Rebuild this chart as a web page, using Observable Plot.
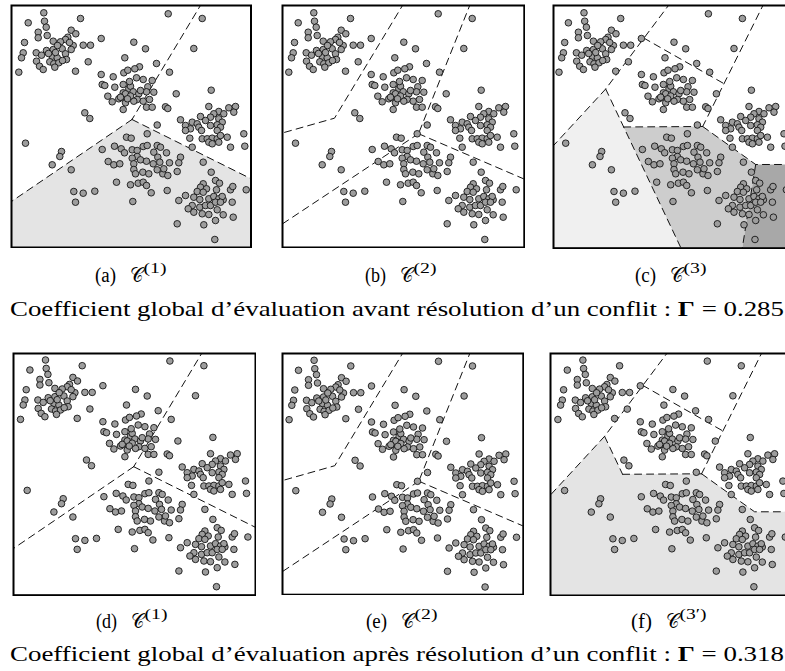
<!DOCTYPE html>
<html>
<head>
<meta charset="utf-8">
<script src="https://cdn.jsdelivr.net/npm/d3@7"></script>
<script src="https://cdn.jsdelivr.net/npm/@observablehq/plot@0.6"></script>
<style>
html, body { margin: 0; padding: 0; background: #fff; }
#root { position: relative; width: 785px; height: 671px; overflow: hidden; background: #fff; }
#root svg.plot-panel { position: absolute; }
#overlay { position: absolute; left: 0; top: 0; }
</style>
</head>
<body>
<div id="root"></div>
<script>
// ---------- data: points (panel coordinates, x right, y down) ----------
const clusterNW = [[32.3,7.3],[69,13],[16.7,17.3],[33,15.7],[34.7,21.7],[26.7,26.7],[26.7,32.3],[35.7,30],[59.7,24.7],[64.3,28.3],[56.3,31.7],[54,34],[41.7,35.7],[49,36.3],[13,37],[61.7,40],[71.7,39.7],[79,39.7],[89.7,33],[35,45],[41.7,44],[50.7,43.3],[59.7,44],[24.7,47.3],[30,49.7],[11.7,47.3],[10,52.3],[40.7,50.7],[45.7,52.3],[54,48.3],[25,55.7],[38.3,56.3],[42.3,58.3],[47.3,57.3],[55,54],[76.7,56.3],[28,60.7],[31.7,64],[43.3,61.7],[7.3,66.7],[64,65.7],[46,40],[58,37],[51,55],[37,48],[44,47]];
const clusterN = [[113.3,52.3],[89.7,69],[101.7,71.3],[112.3,67.3],[116.3,64.7],[90.7,79],[93.3,80],[103.3,81.7],[111.7,79],[117.3,83.3],[96.3,90.7],[100.7,96.3],[107.3,93.3],[111.7,87.3],[110,91.7],[114,97.3],[111.7,104],[73.3,107.3],[78.3,113],[122.3,36.7],[134,43.3],[145,58],[128,61.3],[123.3,63.3],[158,66.7],[125,72.3],[131.7,74],[140.7,75],[136.3,81.3],[119,80.7],[121.7,86.3],[127.3,88.3],[135,86.3],[142.3,86.7],[164.7,88.3],[125.7,94],[131.7,95.7],[138,94],[122.3,95.7],[135,101.7],[140.7,101.7],[154,101.3],[156.3,103],[114,88.3],[119,90.5],[109,91.7],[116,93.3],[129,85],[118,76]];
const isolatedTop = [[156.7,8.3],[190.7,13],[182.3,43],[199.7,84.7]];
const clusterE = [[197.3,101],[217.3,102.3],[224,101],[222.3,106.7],[207.3,106],[212.3,108.3],[202.3,108.3],[199,111.7],[189,111],[169,114.3],[180.7,116.7],[185.7,118.3],[194,115],[207.3,113.3],[210.7,116.7],[174,120],[179,123.3],[187.3,121.7],[190,125],[199,120],[205.7,119.3],[209,121.7],[205.7,125],[174,125],[178.3,132.7],[190.7,133.3],[195.7,133.3],[200.7,132.7],[205.7,133.3],[209,130],[197.3,136.7],[200.7,138.3],[207.3,136.7],[215.7,131.7],[232.3,128.3],[233.3,140.7],[219,141.7],[180.7,141.7],[145.7,119.5]];
const clusterSW = [[14,137.7],[50,146],[48.3,151],[40.7,159.3],[59.7,164.3],[90.7,144],[103,140.7],[115,131.7],[119.7,132.7],[135.7,128.3],[109.7,143.3],[113,147.3],[120.7,144.3],[125.7,145],[131.7,141],[135.7,140],[145.7,140],[149,141.7],[155,147.3],[142.3,146.7],[125.7,151],[120.7,152.7],[129,154.3],[135,155.7],[146.3,151.7],[141.7,158.3],[148.3,156.7],[158,157.3],[169,151.7],[167.3,157.3],[96.7,156],[102.3,159.3],[108.3,158.3],[122.3,158.3],[122.3,164],[124,168.3],[131.3,166.7],[137.3,168.3],[145.7,164.3],[151.3,168.3],[152.3,163.3],[156.3,170],[165.7,166],[105,176.7],[119,179.3],[126.7,177.7],[131.7,176.7],[135,180],[139.7,187.3],[155.7,185],[62.3,186],[71.7,187.7],[83.3,185.7],[64,196.7],[121.3,196],[167.3,195],[165.7,218.3]];
const clusterSE = [[174,190],[191.7,156.7],[199.7,166.7],[204,175],[208,177.7],[191.7,178.3],[189,181.7],[195,183.3],[185.7,186],[191.7,186.7],[205,184.3],[219,184.3],[221.3,181],[234.7,184.3],[182.3,191.7],[188.3,194],[197.3,193.3],[202.3,191],[207.3,193.3],[211.7,194.3],[210.7,191],[220.7,196.7],[180.7,200],[188.3,201.7],[194,200],[199,200],[204,196.7],[209,196.7],[205.7,204.3],[182.3,206.7],[190.7,208.3],[197.3,209],[211.7,209.3],[221.7,211.7],[204,215],[192.3,219.3],[203.3,234],[176.7,203.3]];

// ---------- data: partition boundaries ----------
const bounds1 = [
  [[190.7,-3],[120.5,114]],
  [[120.5,114],[-3,198]],
  [[120.5,114],[245,176]]
];
const bounds2 = [
  [[122.8,-3],[53,112.7],[-3,128.6]],
  [[189.4,-3],[137,128.2]],
  [[137,128.2],[246,175]],
  [[137,128.2],[-3,221]]
];
const bounds3 = [
  [[119,-3],[54,83.5],[-3,145.3]],
  [[54,83.5],[132.8,250]],
  [[92,32.5],[172,78]],
  [[212.7,-3],[151,121]],
  [[72,121.5],[151,121]],
  [[151,121],[204,159],[250,159]],
  [[204,159],[189.4,250]]
];
const bounds3p = [
  [[119,-3],[54,83.5],[-3,145.3]],
  [[54,83.5],[72,121.5]],
  [[92,32.5],[172,78]],
  [[212.7,-3],[151,121]],
  [[72,121.5],[151,121]],
  [[151,121],[204,159],[250,159]]
];
const region1 = [[-3,198],[120.5,114],[245,176],[245,250],[-3,250]];
const region3Light = [[-3,145.3],[54,83.5],[132.8,250],[-3,250]];
const region3Mid = [[72,121.5],[151,121],[204,159],[189.4,250],[132.8,250]];
const region3Dark = [[204,159],[250,159],[250,250],[189.4,250]];
const region3p = [[-3,145.3],[54,83.5],[72,121.5],[151,121],[204,159],[250,159],[250,250],[-3,250]];

// ---------- texts ----------
const captionLetters = ["a","b","c","d","e","f"];
const captionSups = ["(1)","(2)","(3)","(1)","(2)","(3\u2032)"];
const lineTexts = ["Coefficient global d\u2019\u00e9valuation avant r\u00e9solution d\u2019un conflit : ",
                   "Coefficient global d\u2019\u00e9valuation apr\u00e8s r\u00e9solution d\u2019un conflit : "];
const gammaValues = ["0.285","0.318"];

// ---------- layout ----------
const panels = [
  {fl:11,    fr:250.5, ft:5,     fb:247,   ox:11,    oy:5,     bounds:bounds1,  regions:[[region1,"#e4e4e4"]]},
  {fl:282,   fr:523.8, ft:5,     fb:247,   ox:281,   oy:5,     bounds:bounds2,  regions:[]},
  {fl:552.8, fr:800,   ft:5,     fb:247.7, ox:551,   oy:5,     bounds:bounds3,  regions:[[region3Light,"#f0f0f0"],[region3Mid,"#cdcdcd"],[region3Dark,"#a8a8a8"]]},
  {fl:13,    fr:255,   ft:353.3, fb:595,   ox:12.7,  oy:352.5, bounds:bounds1,  regions:[]},
  {fl:282,   fr:522.8, ft:353.3, fb:594.5, ox:281.3, oy:352.8, bounds:bounds2,  regions:[]},
  {fl:550.3, fr:800,   ft:353,   fb:595,   ox:550.4, oy:352.3, bounds:bounds3p, regions:[[region3p,"#e4e4e4"]]}
];

const allPoints = [...clusterNW, ...clusterN, ...isolatedTop, ...clusterE, ...clusterSW, ...clusterSE];
const root = document.getElementById("root");

panels.forEach(p => {
  const w = p.fr - p.fl, h = p.fb - p.ft;
  const segData = p.bounds.flatMap((seg, i) => seg.map(([x, y]) => ({x, y, seg: i})));
  const chart = Plot.plot({
    width: w + 2, height: h + 2,
    margin: 1,
    x: {domain: [p.fl - p.ox, p.fr - p.ox], axis: null},
    y: {domain: [p.ft - p.oy, p.fb - p.oy], reverse: true, axis: null},
    marks: [
      ...p.regions.map(([poly, col]) => Plot.line(poly, {fill: col, stroke: "none", clip: true})),
      Plot.line(segData, {x: "x", y: "y", z: "seg", stroke: "#111", strokeWidth: 1, strokeDasharray: "7,5", clip: true}),
      Plot.dot(allPoints, {r: 3.3, fill: "#9d9d9d", stroke: "#151515", strokeWidth: 0.9, clip: true}),
      Plot.frame({stroke: "#000", strokeWidth: 2})
    ]
  });
  chart.classList.add("plot-panel");
  chart.style.left = (p.fl - 1) + "px";
  chart.style.top = (p.ft - 1) + "px";
  chart.style.maxWidth = "none";
  chart.style.background = "transparent";
  root.appendChild(chart);
});

// ---------- text overlay ----------
const svg = d3.select(root).append("svg")
  .attr("id", "overlay").attr("width", 785).attr("height", 671)
  .style("font-family", "'Liberation Serif','DejaVu Serif',serif").style("fill", "#000");

const capCenters = [131, 401, 671, 132, 402, 667];
const capBase = [282, 282, 282, 627.5, 627.5, 627.5];
captionLetters.forEach((L, i) => {
  const cx = capCenters[i], by = capBase[i];
  svg.append("text").attr("x", cx - 36).attr("y", by).attr("font-size", 20)
    .attr("textLength", 21).attr("lengthAdjust", "spacingAndGlyphs").text("(" + L + ")");
  svg.append("text").attr("x", cx - 1.5).attr("y", by).attr("font-size", 21)
    .attr("font-family", "'DejaVu Serif','DejaVu Sans','Noto Sans',serif")
    .attr("textLength", 13).attr("lengthAdjust", "spacingAndGlyphs").text("\u{1D49E}");
  const s = captionSups[i];
  svg.append("text").attr("x", cx + 12.5).attr("y", by - 9).attr("font-size", 14.5)
    .attr("textLength", s.length > 3 ? 27 : 23).attr("lengthAdjust", "spacingAndGlyphs").text(s);
});

const lineBase = [316, 661];
lineTexts.forEach((t, i) => {
  const tx = svg.append("text").attr("x", 10).attr("y", lineBase[i]).attr("font-size", 21)
    .attr("textLength", 774).attr("lengthAdjust", "spacingAndGlyphs");
  tx.append("tspan").text(t);
  tx.append("tspan").attr("font-weight", "bold").text("\u0393");
  tx.append("tspan").text(" = " + gammaValues[i]);
});
</script>
</body>
</html>
